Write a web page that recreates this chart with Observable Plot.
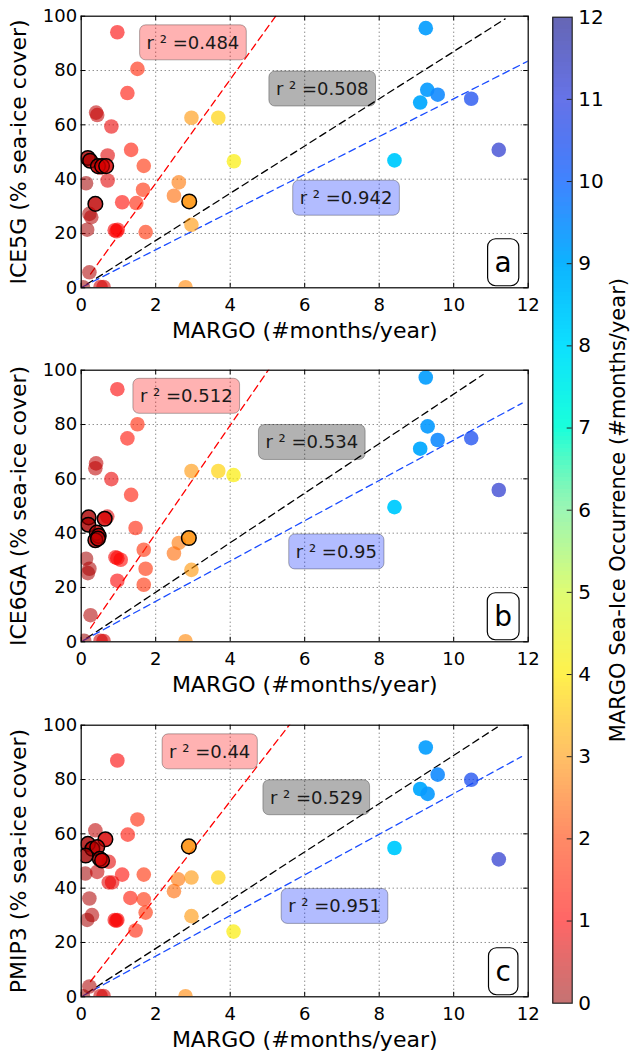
<!DOCTYPE html>
<html><head><meta charset="utf-8">
<script src="https://cdn.jsdelivr.net/npm/d3@7"></script>
<script src="https://cdn.jsdelivr.net/npm/@observablehq/plot@0.6"></script>
<style>
body{margin:0;background:#fff;}
#fig{position:relative;width:631px;height:1054px;overflow:hidden;background:#fff;}
#fig > div{position:absolute;}
</style></head><body><div id="fig"></div>
<script>
// ---------- data ----------
const panelYLabels = ["ICE5G (% sea-ice cover)", "ICE6GA (% sea-ice cover)", "PMIP3 (% sea-ice cover)"];
const panelLetters = ["a", "b", "c"];
const xLabel = "MARGO (#months/year)";
const cbLabel = "MARGO Sea-Ice Occurrence (#months/year)";
const xTicks = [0, 2, 4, 6, 8, 10, 12];
const yTicks = [0, 20, 40, 60, 80, 100];
const cbTicks = [0, 1, 2, 3, 4, 5, 6, 7, 8, 9, 10, 11, 12];

const xA = [0.97,1.51,1.24,0.40,0.43,0.81,2.96,3.68,4.10,1.34,0.71,1.68,0.18,0.24,0.45,0.56,0.67,0.51,0.71,0.13,2.62,1.66,2.49,2.90,0.38,1.10,1.48,0.22,0.27,2.96,0.16,0.90,0.95,0.98,1.73,0.22,0.52,0.60,2.80,0.05,9.25,9.29,9.57,9.10,10.47,11.21,8.41];
const yA = [94.1,80.6,71.7,64.5,63.6,59.4,62.6,62.6,46.6,50.8,48.7,44.9,47.8,46.8,44.8,44.8,44.8,44.2,39.5,38.5,38.8,36.1,33.9,31.8,30.9,31.5,31.2,27.2,26.0,23.2,21.4,21.2,20.8,21.4,20.5,5.7,0.3,0.3,0.2,0.2,95.6,72.9,71.1,68.2,69.6,50.8,46.9];
const edgeA = [0,0,0,0,0,0,0,0,0,0,0,0,1,1,1,1,1,0,0,0,0,0,0,1,1,0,0,0,0,0,0,0,0,0,0,0,0,0,0,0,0,0,0,0,0,0,0];

const xB = [0.97,1.51,1.24,0.40,0.38,0.81,2.96,3.68,4.09,1.34,0.70,0.63,0.20,0.19,1.46,0.42,0.47,0.38,0.45,2.89,2.62,2.49,1.68,0.92,1.06,0.97,0.13,0.22,0.18,2.96,1.73,0.97,1.68,0.25,0.52,0.60,2.80,0.08,9.25,9.30,9.57,9.10,10.47,11.21,8.41];
const yB = [93.0,80.1,74.9,65.7,63.9,59.9,62.9,62.9,61.4,54.1,46.1,45.3,45.8,43.1,41.9,40.2,39.0,37.4,38.0,38.2,36.4,32.5,33.9,31.1,30.2,30.8,30.6,26.9,25.3,26.5,26.9,22.5,21.0,9.8,0.4,0.3,0.2,0.4,97.3,79.3,74.3,71.1,75.0,55.9,49.6];
const edgeB = [0,0,0,0,0,0,0,0,0,0,0,1,1,1,0,1,1,1,1,1,0,0,0,0,0,0,0,0,0,0,0,0,0,0,0,0,0,0,0,0,0,0,0,0,0];

const xC = [0.97,1.51,0.38,1.25,0.65,2.89,0.18,0.30,0.43,0.50,0.56,0.12,0.74,0.11,0.43,1.10,1.68,2.60,2.96,3.68,0.74,0.83,2.49,0.22,1.32,1.68,0.29,0.16,1.73,0.90,0.97,0.94,2.96,1.46,4.09,0.22,0.52,0.60,2.80,0.05,9.25,9.57,10.47,9.10,9.30,11.21,8.41];
const yC = [87.0,65.3,61.3,59.7,58.0,55.4,56.3,54.5,55.1,50.8,50.2,52.0,49.7,45.4,46.0,45.0,45.0,43.3,43.9,43.9,42.1,42.1,38.9,36.2,36.4,35.9,30.1,28.3,31.0,28.3,28.3,28.0,29.7,24.4,24.0,3.8,0.3,0.3,0.2,0.2,91.8,81.8,79.9,76.5,74.7,50.6,54.8];
const edgeC = [0,0,0,0,1,1,1,1,1,1,1,1,0,0,0,0,0,0,0,0,0,0,0,0,0,0,0,0,0,0,0,0,0,0,0,0,0,0,0,0,0,0,0,0,0,0,0];

// regression fits: [red subset, all, blue subset]
const fitSlopeA = [19.1, 8.7, 6.95], fitInterceptA = [0.3, 0, 0.1], fitStartA = [0.25, 0.15, 0.03], fitEndA = [5.5, 11.38, 12];
const fitSlopeB = [19.9, 9.12, 7.42], fitInterceptB = [0.1, 0, 0.05], fitStartB = [0.25, 0.15, 0.05], fitEndB = [5.2, 10.79, 11.84];
const fitSlopeC = [17.7, 8.89, 7.48], fitInterceptC = [1.2, 0, 0], fitStartC = [0.25, 0.15, 0.05], fitEndC = [5.8, 11.17, 11.82];

const r2A = ["0.484", "0.508", "0.942"];
const r2B = ["0.512", "0.534", "0.95"];
const r2C = ["0.44", "0.529", "0.951"];

// colormap (MARGO months -> colour)
const cmapStops = [0,1,2,3,4,5,6,7,8,9,10,11,12];
const cmapColors = ["rgba(150,0,0,0.55)","rgba(255,0,0,0.6)","rgba(255,60,0,0.6)","rgba(255,150,0,0.6)","rgba(255,235,0,0.7)","rgba(205,250,40,0.65)","rgba(90,240,130,0.6)","rgba(0,255,215,0.9)","rgba(0,222,255,0.95)","rgba(0,175,255,0.95)","rgba(30,110,255,0.85)","rgba(20,40,220,0.65)","rgba(0,0,130,0.6)"];

// ---------- annotation layout (data coordinates) ----------
const labelPos = [
  [[3.0, 90.1], [6.47, 73.1], [7.11, 32.9]],
  [[2.82, 90.3], [6.19, 73.3], [6.85, 33.0]],
  [[3.45, 90.1], [6.31, 73.2], [6.80, 33.2]]
];
const fitColors = ["#ff0000", "#000000", "#1a4cff"];
const boxFills = ["#ff0000", "#000000", "#0022ff"];

const panels = [
  {x: xA, y: yA, e: edgeA, s: fitSlopeA, i: fitInterceptA, x0: fitStartA, x1: fitEndA, r2: r2A},
  {x: xB, y: yB, e: edgeB, s: fitSlopeB, i: fitInterceptB, x0: fitStartB, x1: fitEndB, r2: r2B},
  {x: xC, y: yC, e: edgeC, s: fitSlopeC, i: fitInterceptC, x0: fitStartC, x1: fitEndC, r2: r2C}
];

const FONT = "DejaVu Sans";
const colorOpts = {type: "linear", domain: cmapStops, range: cmapColors};
const W = 540, ML = 80.7, MR = 12.3, MT = 15.7, AH = 271.6, MB = 58.7;
const AW = W - ML - MR;
const r2Text = v => "r ² =" + v;

function makePanel(k) {
  const p = panels[k];
  const pts = p.x.map((x, j) => ({x, y: p.y[j], edge: p.e[j]}));
  const marks = [
    Plot.gridX(xTicks.slice(1, -1), {stroke: "#333", strokeOpacity: 0.8, strokeDasharray: "1,3"}),
    Plot.gridY(yTicks.slice(1, -1), {stroke: "#333", strokeOpacity: 0.8, strokeDasharray: "1,3"}),
    Plot.tickX(xTicks, {x: d => d, insetTop: AH - 4.5, stroke: "black"}),
    Plot.tickX(xTicks, {x: d => d, insetBottom: AH - 4.5, stroke: "black"}),
    Plot.tickY(yTicks, {y: d => d, insetRight: AW - 4.5, stroke: "black"}),
    Plot.tickY(yTicks, {y: d => d, insetLeft: AW - 4.5, stroke: "black"})
  ];
  for (let f = 0; f < 3; f++) {
    const seg = [p.x0[f], p.x1[f]].map(x => ({x, y: p.s[f] * x + p.i[f]}));
    marks.push(Plot.line(seg, {x: "x", y: "y", stroke: fitColors[f], strokeWidth: 1.3, strokeDasharray: "7,4.5", clip: true}));
  }
  marks.push(
    Plot.dot(pts, {x: "x", y: "y", r: 7.3, fill: "x", clip: true}),
    Plot.dot(pts.filter(d => d.edge), {x: "x", y: "y", r: 7.3, fill: "x", stroke: "black", strokeWidth: 1.5, clip: true})
  );
  for (let f = 0; f < 3; f++) {
    marks.push(Plot.text([p.r2[f]], {
      x: () => labelPos[k][f][0], y: () => labelPos[k][f][1],
      text: r2Text, fontSize: 18, fontFamily: FONT, fill: "#1a1a1a",
      textAnchor: "middle", lineAnchor: "middle"
    }));
  }
  marks.push(
    Plot.text([panelLetters[k]], {frameAnchor: "bottom-right", dx: -25, dy: -25, text: d => d, fontSize: 28, fontFamily: FONT, fill: "black", textAnchor: "middle", lineAnchor: "middle"}),
    Plot.frame({stroke: "black", strokeWidth: 1.2}),
    Plot.axisX(xTicks, {tickSize: 0, tickPadding: 10, fontSize: 18, fontFamily: FONT, fill: "black", label: null, tickFormat: d => String(d)}),
    Plot.axisY(yTicks, {tickSize: 0, tickPadding: 4, fontSize: 18, fontFamily: FONT, fill: "black", label: null, tickFormat: d => String(d)}),
    Plot.text([xLabel], {frameAnchor: "bottom", dy: 50, lineAnchor: "bottom", text: d => d, fontSize: 22, fontFamily: FONT, fill: "black"}),
    Plot.text([panelYLabels[k]], {frameAnchor: "left", dx: -62, rotate: -90, lineAnchor: "middle", textAnchor: "middle", text: d => d, fontSize: 22, fontFamily: FONT, fill: "black"})
  );
  return Plot.plot({
    width: W, height: MT + AH + MB,
    marginLeft: ML, marginRight: MR, marginTop: MT, marginBottom: MB,
    style: {fontFamily: FONT, fontSize: "18px", color: "black", background: "transparent", overflow: "visible"},
    x: {domain: [0, 12], label: null, axis: null},
    y: {domain: [0, 100], label: null, axis: null},
    color: colorOpts,
    marks
  });
}

function makeColorbar() {
  const step = 0.05;
  const steps = d3.range(0, 12, step);
  const barW = 19.4;
  return Plot.plot({
    width: 91, height: 1054,
    marginLeft: 12.3, marginRight: 59.3, marginTop: 16.7, marginBottom: 51.3,
    style: {fontFamily: FONT, fontSize: "20px", color: "black", background: "transparent", overflow: "visible"},
    x: {domain: [0, 1], axis: null},
    y: {domain: [0, 12], axis: null, label: null},
    color: colorOpts,
    marks: [
      Plot.rect(steps, {y1: d => d, y2: d => Math.min(12, d + step), fill: d => d + step / 2, shapeRendering: "crispEdges"}),
      Plot.frame({stroke: "#222", strokeWidth: 1.2}),
      Plot.tickY(cbTicks.slice(1, -1), {y: d => d, insetLeft: barW - 5, stroke: "#222"}),
      Plot.axisY(cbTicks, {anchor: "right", tickSize: 0, tickPadding: 6, fontSize: 20, fontFamily: FONT, fill: "black", label: null, tickFormat: d => String(d)}),
      Plot.text([cbLabel], {frameAnchor: "right", dx: 46, rotate: -90, textAnchor: "middle", lineAnchor: "middle", text: d => d, fontSize: 21, fontFamily: FONT, fill: "black"})
    ]
  });
}

// rounded boxes behind annotation texts, matched by their content
const boxStyles = {};
[r2A, r2B, r2C].forEach(arr => arr.forEach((v, f) => {
  boxStyles[r2Text(v)] = {fill: boxFills[f], pad: 7, rx: 6, fo: 0.3, stroke: "black", so: 0.3, sw: 1};
}));
panelLetters.forEach(l => { boxStyles[l] = {fill: "white", pad: 7, rx: 8, fo: 1, stroke: "black", so: 1, sw: 1.2}; });

function addBoxes(svg) {
  const ns = "http://www.w3.org/2000/svg";
  svg.querySelectorAll("text").forEach(t => {
    if (t.querySelector("tspan")) return;
    const st = boxStyles[t.textContent];
    if (!st) return;
    const bb = t.getBBox();
    const r = document.createElementNS(ns, "rect");
    r.setAttribute("x", bb.x - st.pad);
    r.setAttribute("y", bb.y - st.pad);
    r.setAttribute("width", bb.width + 2 * st.pad);
    r.setAttribute("height", bb.height + 2 * st.pad);
    r.setAttribute("rx", st.rx);
    r.setAttribute("ry", st.rx);
    r.setAttribute("fill", st.fill);
    r.setAttribute("fill-opacity", st.fo);
    r.setAttribute("stroke", st.stroke);
    r.setAttribute("stroke-opacity", st.so);
    r.setAttribute("stroke-width", st.sw);
    const tr = t.getAttribute("transform");
    if (tr) r.setAttribute("transform", tr);
    t.parentNode.insertBefore(r, t);
  });
}

const fig = document.getElementById("fig");
const tops = [0, 354.3, 708.6];
for (let k = 0; k < 3; k++) {
  const div = document.createElement("div");
  div.style.left = "0px";
  div.style.top = tops[k] + "px";
  const svg = makePanel(k);
  div.appendChild(svg);
  fig.appendChild(div);
  addBoxes(svg);
}
const cbDiv = document.createElement("div");
cbDiv.style.left = "540px";
cbDiv.style.top = "0px";
cbDiv.appendChild(makeColorbar());
fig.appendChild(cbDiv);
</script>
</body></html>
